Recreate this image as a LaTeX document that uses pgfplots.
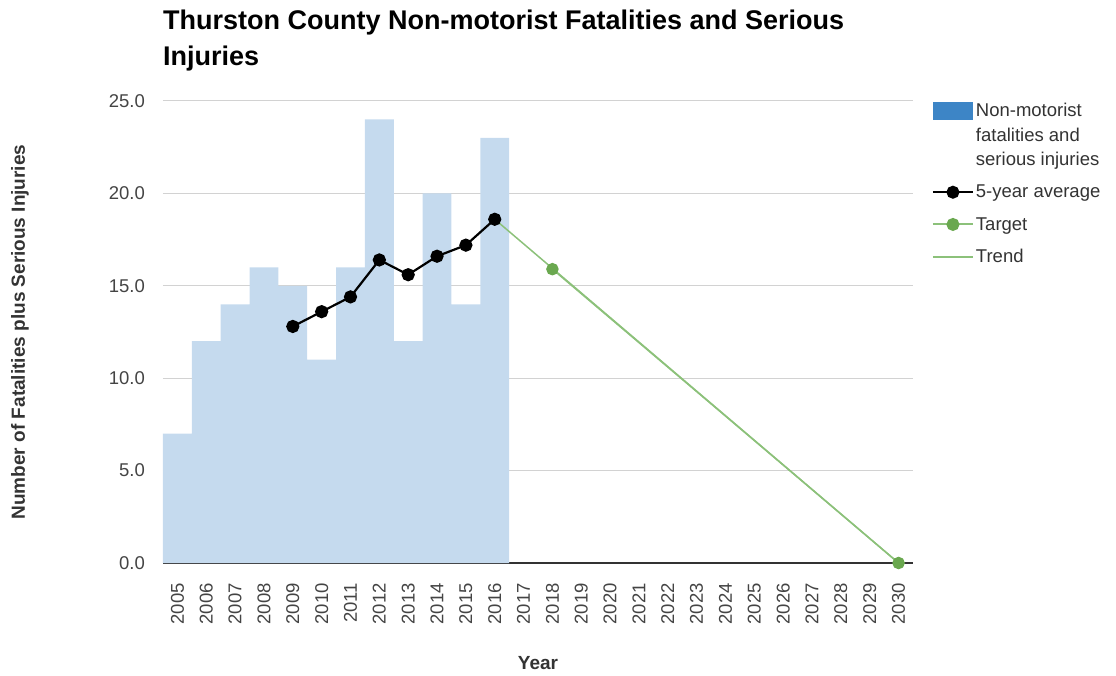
\documentclass[border=0pt]{standalone}
\usepackage{pgfplots}
\pgfplotsset{compat=1.18}
\usepackage{fontspec}
\setmainfont{Liberation Sans}
\definecolor{barblue}{RGB}{197,218,238}
\definecolor{legblue}{RGB}{61,133,198}
\definecolor{tgreen}{RGB}{106,168,79}
\definecolor{trgreen}{RGB}{140,193,122}
\definecolor{gridgray}{RGB}{210,210,210}
\definecolor{ticklab}{RGB}{68,68,68}
\definecolor{axisdark}{RGB}{51,51,51}
\begin{document}
\begin{tikzpicture}[x=1pt,y=1pt]
\useasboundingbox (-163,-112) rectangle (953,563);
\begin{axis}[
  at={(0,0)}, anchor=south west,
  width=750pt, height=462pt, scale only axis,
  xmin=2004.5, xmax=2030.5, ymin=0, ymax=25,
  xtick={2005,...,2030}, ytick={0,5,...,25},
  axis lines*=left,
  y axis line style={draw=none},
  x axis line style={draw=axisdark, line width=1.5pt},
  ymajorgrids, grid style={gridgray, line width=1pt},
  major tick length=0pt,
  /pgf/number format/assume math mode=true,
  xticklabel style={rotate=90, anchor=east, inner sep=0pt,
    /pgf/number format/1000 sep={}},
  yticklabel style={anchor=east, inner sep=0pt,
    /pgf/number format/fixed, /pgf/number format/fixed zerofill,
    /pgf/number format/precision=1},
  xticklabel shift=20pt, yticklabel shift=18pt,
  tick label style={font=\fontsize{18.5}{22}\selectfont, color=ticklab},
  xlabel={Year}, ylabel={Number of Fatalities plus Serious Injuries},
  xlabel style={at={(axis description cs:0.5,-0.2165)}, anchor=center,
    font=\bfseries\fontsize{19}{22}\selectfont, color=axisdark},
  ylabel style={at={(axis description cs:-0.1907,0.5)}, anchor=center, rotate=0,
    font=\bfseries\fontsize{19}{22}\selectfont, color=axisdark},
  clip=false,
  legend style={at={(1.025,1.0)}, anchor=north west, draw=none,
    font=\fontsize{18.5}{24.5}\selectfont, text=axisdark,
    cells={anchor=west, align=left}, row sep=14pt, inner sep=0pt},
  legend cell align=left,
  legend image code/.code={\draw[mark repeat=2, mark phase=2, #1, line width=2pt]
     plot coordinates {(0pt,0pt) (20pt,0pt) (40pt,0pt)};},
]
\addplot[ybar, bar width=1, bar shift=0pt, fill=barblue, draw=none,
  legend image code/.code={\fill[legblue] (0pt,15pt) rectangle (40pt,33pt);}]
  coordinates {(2005,7) (2006,12) (2007,14) (2008,16) (2009,15) (2010,11)
               (2011,16) (2012,24) (2013,12) (2014,20) (2015,14) (2016,23)};
\addlegendentry{Non-motorist\\fatalities and\\serious injuries}
\addplot[black, line width=2.2pt, mark=*, mark size=5.5pt,
  mark options={fill=black}]
  coordinates {(2009,12.8) (2010,13.6) (2011,14.4) (2012,16.4)
               (2013,15.6) (2014,16.6) (2015,17.2) (2016,18.6)};
\addlegendentry{5-year average}
\addplot[trgreen, line width=1.5pt, mark=*, mark size=5.5pt,
  mark options={fill=tgreen, draw=tgreen}]
  coordinates {(2018,15.9) (2030,0)};
\addlegendentry{Target}
\addplot[trgreen, line width=1.5pt]
  coordinates {(2016,18.6) (2030,0)};
\addlegendentry{Trend}
\end{axis}
\node[anchor=north west, align=left, inner sep=0pt,
  font=\bfseries\fontsize{27}{36}\selectfont]
  at (0,553) {Thurston County Non-motorist Fatalities and Serious\\Injuries};
\end{tikzpicture}
\end{document}
